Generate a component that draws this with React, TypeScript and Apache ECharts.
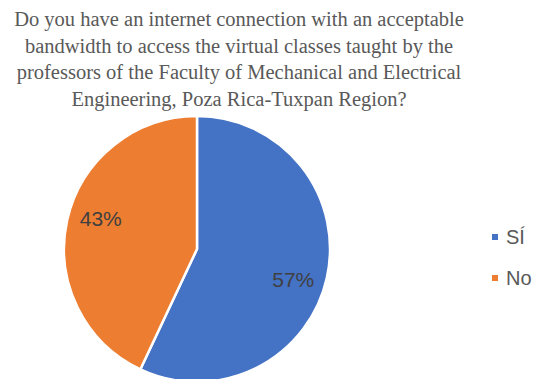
import React, { useEffect, useRef } from "react";
import * as echarts from "echarts";

const titleText =
  "Do you have an internet connection with an acceptable\nbandwidth to access the virtual classes taught by the\nprofessors of the Faculty of Mechanical and Electrical\nEngineering, Poza Rica-Tuxpan Region?";
const categories = ["SÍ", "No"];
const values = [57, 43];
const colors = ["#4472C4", "#ED7D31"];

export default function App() {
  const ref = useRef<HTMLDivElement>(null);
  useEffect(() => {
    document.body.style.margin = "0";
    const chart = echarts.init(ref.current!, undefined, { renderer: "svg" });
    const data = categories.map((name, i) => ({
      name,
      value: values[i],
      itemStyle: { color: colors[i] },
    }));
    chart.setOption({
      animation: false,
      backgroundColor: "#ffffff",
      title: {
        text: titleText,
        left: 234,
        top: 1,
        textAlign: "center",
        textStyle: {
          fontFamily: "'Liberation Serif', 'Times New Roman', serif",
          fontSize: 20.5,
          fontWeight: "normal",
          color: "#595959",
          lineHeight: 26.5,
        },
      },
      legend: {
        orient: "vertical",
        left: 485,
        top: 222,
        itemWidth: 8,
        itemHeight: 8,
        itemGap: 21,
        icon: "rect",
        data: categories,
        textStyle: {
          fontFamily: "Liberation Sans",
          fontSize: 20,
          color: "#595959",
          padding: [0, 0, 0, 2],
        },
      },
      series: [
        {
          type: "pie",
          center: [197, 249],
          radius: [0, 133],
          startAngle: 90,
          clockwise: true,
          data,
          itemStyle: { borderColor: "#ffffff", borderWidth: 2.5 },
          label: { show: false },
          labelLine: { show: false },
          emphasis: { disabled: true },
        },
        {
          type: "pie",
          center: [197, 249],
          radius: [0, 196],
          startAngle: 85,
          clockwise: true,
          silent: true,
          data: categories.map((name, i) => ({
            name,
            value: values[i],
            itemStyle: { color: "transparent" },
          })),
          label: {
            show: true,
            position: "inside",
            formatter: "{d}%",
            fontFamily: "Liberation Sans",
            fontSize: 21,
            color: "#404040",
          },
          labelLine: { show: false },
          emphasis: { disabled: true },
          legendHoverLink: false,
        },
      ],
    });
    return () => chart.dispose();
  }, []);
  return <div ref={ref} style={{ width: 541, height: 379 }} />;
}
